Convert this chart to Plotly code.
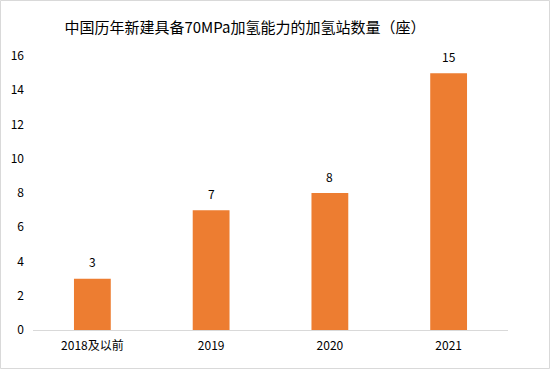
import plotly.graph_objects as go

categories = ["2018及以前", "2019", "2020", "2021"]
values = [3, 7, 8, 15]
y_ticks = [0, 2, 4, 6, 8, 10, 12, 14, 16]

FONT = "Noto Sans CJK SC"
W, H = 550, 369
ml, mr, mt, mb = 33, 42, 56, 39
pw, ph = W - ml - mr, H - mt - mb

fig = go.Figure()
fig.add_trace(go.Bar(
    x=categories, y=values,
    marker=dict(color="#ED7D31", line=dict(width=0)),
    width=0.31,
    hoverinfo="x+y",
))

for i, v in enumerate(values):
    fig.add_annotation(x=i, y=v, xref="x", yref="y", text=str(v), showarrow=False,
                       yshift=17, font=dict(family=FONT, size=12, color="#000000"))

# outer border
fig.add_shape(type="rect", xref="paper", yref="paper",
              x0=(-ml + 0.5) / pw, x1=(W - ml - 0.5) / pw,
              y0=(-mb + 0.5) / ph, y1=(H - mb - 0.5) / ph,
              line=dict(color="#d9d9d9", width=1), fillcolor="rgba(0,0,0,0)",
              layer="above")

fig.update_layout(
    width=W, height=H,
    margin=dict(l=ml, r=mr, t=mt, b=mb),
    paper_bgcolor="white", plot_bgcolor="white",
    title=dict(text="中国历年新建具备70MPa加氢能力的加氢站数量（座）",
               x=245 / W, xanchor="center", y=1 - 28 / H, yanchor="middle",
               font=dict(family=FONT, size=15, color="#000000")),
    font=dict(family=FONT, size=12, color="#000000"),
    showlegend=False,
)
fig.update_xaxes(type="category", range=[-0.5, len(categories) - 0.5],
                 showline=True, linecolor="#d9d9d9", linewidth=1,
                 showgrid=False, ticks="", ticklabelstandoff=5,
                 tickfont=dict(size=12, color="#000000"))
fig.update_yaxes(range=[0, 16], tickvals=y_ticks, showgrid=False, zeroline=False,
                 showline=False, ticks="", ticklabelstandoff=8,
                 tickfont=dict(size=12, color="#000000"))

fig.write_html("out.html", config={"displayModeBar": False},
               post_script="document.body.style.margin='0';")
